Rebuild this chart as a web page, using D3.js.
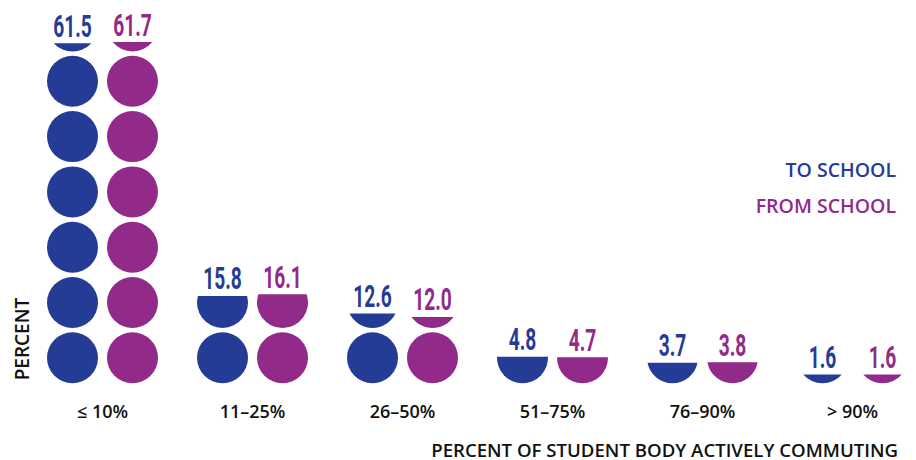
<!DOCTYPE html>
<html>
<head>
<meta charset="utf-8">
<script src="https://cdn.jsdelivr.net/npm/d3@7"></script>
<style>
  html, body { margin: 0; padding: 0; background: #fff; }
  svg { display: block; }
</style>
</head>
<body>
<svg id="chart" width="916" height="460"></svg>
<script>
// ---- data ----
const categories = ["≤ 10%", "11–25%", "26–50%", "51–75%", "76–90%", "> 90%"];
const seriesNames = ["TO SCHOOL", "FROM SCHOOL"];
const toSchool = [61.5, 15.8, 12.6, 4.8, 3.7, 1.6];
const fromSchool = [61.7, 16.1, 12.0, 4.7, 3.8, 1.6];
const unitValue = 10; // percent represented by one full circle
const seriesColors = ["#253c96", "#922a89"];
const xAxisTitle = "PERCENT OF STUDENT BODY ACTIVELY COMMUTING";
const yAxisTitle = "PERCENT";

// ---- layout ----
const svg = d3.select("#chart");
const baseY = 383.3;
const cell = 55.3;
const r = 25.5;

const x = d3.scalePoint().domain(categories).range([102.5, 852.5]);
const xs = d3.scalePoint().domain(seriesNames).range([-30, 30]);
const y = d3.scaleLinear().domain([0, 70]).range([baseY, baseY - 7 * cell]);

const seriesValues = [toSchool, fromSchool];
const rows = [];
categories.forEach((c, i) => {
  seriesNames.forEach((s, j) => {
    rows.push({ cat: c, series: s, value: seriesValues[j][i], color: seriesColors[j] });
  });
});

function segmentPath(cx, cy, r, yc) {
  if (yc <= cy - r) {
    return `M${cx - r},${cy} A${r},${r} 0 1 1 ${cx + r},${cy} A${r},${r} 0 1 1 ${cx - r},${cy} Z`;
  }
  const dy = yc - cy;
  const w = Math.sqrt(Math.max(0, r * r - dy * dy));
  const large = yc < cy ? 1 : 0;
  return `M${cx - w},${yc} L${cx + w},${yc} A${r},${r} 0 ${large} 1 ${cx - w},${yc} Z`;
}

const g = svg.append("g");
rows.forEach(d => {
  const cx = x(d.cat) + xs(d.series);
  const n = Math.ceil(d.value / unitValue);
  const pieces = d3.range(n).map(k => ({ k }));
  g.selectAll(null)
    .data(pieces)
    .join("path")
    .attr("d", p => {
      const bottom = y(p.k * unitValue);
      const cy = bottom - r;
      const yc = Math.max(y(d.value), cy - r);
      return segmentPath(cx, cy, r, yc);
    })
    .attr("fill", d.color);

  g.append("text")
    .attr("transform", `translate(${cx},${y(d.value) - 6.5}) scale(0.6,1)`)
    .attr("text-anchor", "middle")
    .attr("font-family", "Roboto, sans-serif")
    .attr("font-weight", 700)
    .attr("font-size", 32)
    .attr("fill", d.color)
    .text(d3.format(".1f")(d.value));
});

const labelFont = "'Open Sans', sans-serif";

// category labels
svg.append("g").selectAll("text")
  .data(categories)
  .join("text")
  .attr("x", d => x(d))
  .attr("y", 418)
  .attr("text-anchor", "middle")
  .attr("font-family", labelFont)
  .attr("font-weight", 600)
  .attr("font-size", 18)
  .attr("fill", "#111")
  .text(d => d);

// x axis title
svg.append("text")
  .attr("x", 898)
  .attr("y", 456.5)
  .attr("text-anchor", "end")
  .attr("font-family", labelFont)
  .attr("font-weight", 600)
  .attr("font-size", 18.6)
  .attr("fill", "#111")
  .text(xAxisTitle);

// y axis title
svg.append("text")
  .attr("transform", "translate(28.5,339) rotate(-90)")
  .attr("text-anchor", "middle")
  .attr("font-family", labelFont)
  .attr("font-weight", 600)
  .attr("font-size", 19)
  .attr("fill", "#111")
  .text(yAxisTitle);

// legend
svg.append("g").selectAll("text")
  .data(seriesNames)
  .join("text")
  .attr("x", 896)
  .attr("y", (d, i) => 176.7 + i * 36.6)
  .attr("text-anchor", "end")
  .attr("font-family", labelFont)
  .attr("font-weight", 600)
  .attr("font-size", 19.5)
  .attr("fill", (d, i) => seriesColors[i])
  .text(d => d);
</script>
</body>
</html>
